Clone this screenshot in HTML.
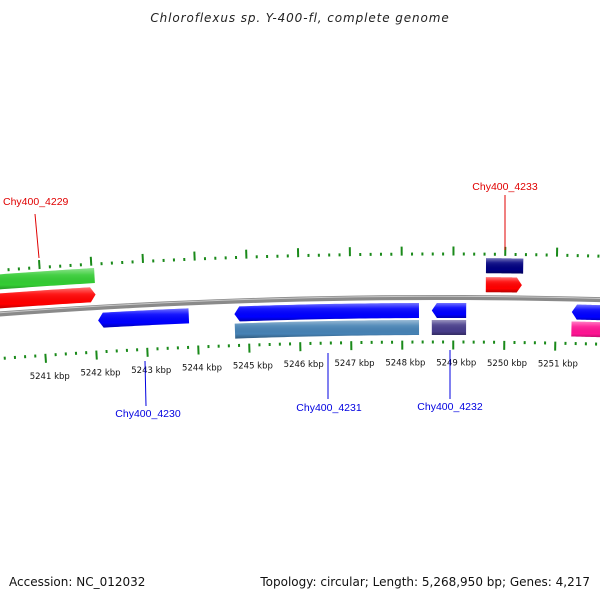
<!DOCTYPE html>
<html><head><meta charset="utf-8"><style>
html,body{margin:0;padding:0;background:#fff;overflow:hidden;}
svg{display:block;font-family:"Liberation Sans",sans-serif;}
</style></head><body>
<svg id="chart" width="600" height="600" viewBox="0 0 600 600">
<defs>
<linearGradient id="gshade" x1="0" y1="0" x2="0" y2="1">
<stop offset="0" stop-color="#fff" stop-opacity="0.45"/>
<stop offset="0.3" stop-color="#fff" stop-opacity="0.1"/>
<stop offset="0.75" stop-color="#000" stop-opacity="0"/>
<stop offset="1" stop-color="#000" stop-opacity="0.3"/>
</linearGradient>
</defs>
<text x="300" y="22" text-anchor="middle" font-size="12" font-style="italic" letter-spacing="0.9" fill="#222" style="font-family:'DejaVu Sans',sans-serif">Chloroflexus sp. Y-400-fl, complete genome</text>
<g id="ticks"></g>
<g id="backbone"></g>
<g id="genes"></g>
<g id="labels"></g>
<text x="9" y="586" font-size="12" fill="#111" style="font-family:'DejaVu Sans',sans-serif">Accession: NC_012032</text>
<text x="590" y="586" text-anchor="end" font-size="12" fill="#111" style="font-family:'DejaVu Sans',sans-serif">Topology: circular; Length: 5,268,950 bp; Genes: 4,217</text>
</svg>
<script>
// data
const geneNames = ["cds-green","Chy400_4229","Chy400_4230","Chy400_4231","Chy400_4231-b","Chy400_4232","Chy400_4232-b","Chy400_4233-a","Chy400_4233","cds-right","cds-right-b"];
const geneStart = [5239.9,5239.9,5242.07,5244.73,5244.73,5248.58,5248.58,5249.63,5249.63,5251.31,5251.31];
const geneEnd   = [5242.05,5242.05,5243.84,5248.33,5248.33,5249.25,5249.25,5250.35,5250.33,5252.4,5252.4];
const geneTrack = [32,13,-13,-13,-30,-13,-30,32,13,-13,-30];
const geneStrand= [0,1,-1,-1,0,-1,0,0,1,-1,0];
const geneColor = ["#33cc33","#ff0000","#0000ff","#0000ff","#4682b4","#0000ff","#483d8b","#000080","#ff0000","#0000ff","#ff1493"];
const tickLabels = [5241,5242,5243,5244,5245,5246,5247,5248,5249,5250,5251];

const NS="http://www.w3.org/2000/svg";
const R=5900, CX=440, CY=297.5+R, K0=5248.74, D=51.4/R;
function P(k,r){const t=(k-K0)*D;return [CX+r*Math.sin(t),CY-r*Math.cos(t)];}
function arcPts(k1,k2,r){const pts=[];const n=30;for(let i=0;i<=n;i++){pts.push(P(k1+(k2-k1)*i/n,r));}return pts;}
function mk(tag,attrs,parent){const e=document.createElementNS(NS,tag);for(const a in attrs)e.setAttribute(a,attrs[a]);parent.appendChild(e);return e;}
const gT=document.getElementById('ticks'),gB=document.getElementById('backbone'),gG=document.getElementById('genes'),gL=document.getElementById('labels');

// backbone
let bb=arcPts(5238,5254,R);
let bp=mk('polyline',{points:bb.map(p=>p.join(',')).join(' '),fill:'none',stroke:'#8a8a8a','stroke-width':5},gB);


let bh=mk('polyline',{points:arcPts(5238,5254,R+1.2).map(p=>p.join(',')).join(' '),fill:'none',stroke:'#c8c8c8','stroke-width':1},gB);



// ticks
for(let i=0;i<=90;i++){
  const k=5239.6+i*0.2; const kr=Math.round(k*5)/5;
  const major=Math.abs(kr-Math.round(kr))<0.01;
  const len=major?9:3;
  const a=P(kr,R+42),b=P(kr,R+42+len);
  const t1=mk('line',{x1:a[0],y1:a[1],x2:b[0],y2:b[1],stroke:'#1a8a1a','stroke-width':2},gT);
  
  
  const c=P(kr,R-43),d=P(kr,R-43-len);
  const t2=mk('line',{x1:c[0],y1:c[1],x2:d[0],y2:d[1],stroke:'#1a8a1a','stroke-width':2},gT);
  
  
}
tickLabels.forEach(k=>{
  const p=P(k,R-64);
  const t=mk('text',{x:p[0]+3,y:p[1]+4,'text-anchor':'middle','font-size':8.5,fill:'#111',style:"font-family:'DejaVu Sans',sans-serif"},gT);
  t.textContent=k+' kbp';
  
  
});

// genes
const H=7.5, AW=0.1;
geneNames.forEach((nm,i)=>{
  const s=geneStart[i],e=geneEnd[i],r=R+geneTrack[i],st=geneStrand[i];
  let pts=[];
  if(st===1){
    pts=pts.concat(arcPts(s,e-AW,r+H));pts.push(P(e,r));pts=pts.concat(arcPts(e-AW,s,r-H));
  }else if(st===-1){
    pts.push(P(s,r));pts=pts.concat(arcPts(s+AW,e,r+H));pts=pts.concat(arcPts(e,s+AW,r-H));
  }else{
    pts=pts.concat(arcPts(s,e,r+H));pts=pts.concat(arcPts(e,s,r-H));
  }
  const str=pts.map(p=>p[0].toFixed(2)+','+p[1].toFixed(2)).join(' ');
  const g=mk('g',{},gG);
  
  
  mk('polygon',{points:str,fill:geneColor[i]},g);
  mk('polygon',{points:str,fill:'url(#gshade)'},g);
});

// gene labels
function label(txt,col,lx,ly,x1,y1,x2,y2,anchor,nm){
  const l=mk('line',{x1:x1,y1:y1,x2:x2,y2:y2,stroke:col,'stroke-width':1},gL);
  
  
  const t=mk('text',{x:lx,y:ly,'text-anchor':anchor,'font-size':10.5,fill:col},gL);
  t.textContent=txt;
  
  
}
label('Chy400_4229','#e00000',3,205,35,214,39,258,'start','chy400-4229');
label('Chy400_4233','#e00000',505,190,505,195,505,250,'middle','chy400-4233');
label('Chy400_4230','#0000e0',148,417,145,361,146,406,'middle','chy400-4230');
label('Chy400_4231','#0000e0',329,411,328,353,328,399,'middle','chy400-4231');
label('Chy400_4232','#0000e0',450,410,450,350,450,399,'middle','chy400-4232');
</script>
</body></html>
